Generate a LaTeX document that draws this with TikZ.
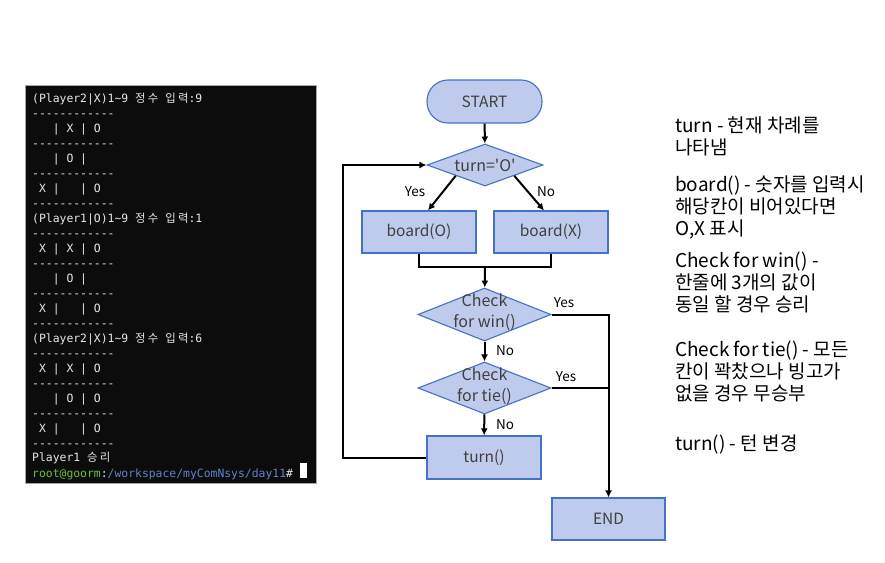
\documentclass[tikz,border=0pt]{standalone}
\usepackage{fontspec}
\setmainfont{Noto Sans CJK KR}
\setmonofont{DejaVu Sans Mono}
\newfontfamily\termkr[LetterSpace=20]{Noto Sans CJK KR}
\usetikzlibrary{shapes.geometric,arrows.meta}
\definecolor{boxfill}{HTML}{BFCBEC}
\definecolor{boxline}{HTML}{4472C4}
\definecolor{boxtext}{HTML}{404040}
\definecolor{termbg}{HTML}{0C0C0C}
\definecolor{termfg}{HTML}{E8E8E8}
\definecolor{termgreen}{HTML}{6CBE3A}
\definecolor{termblue}{HTML}{5B86C6}
\newcommand{\hg}[1]{{\termkr #1}}
\newcommand{\tld}{\textasciitilde}

\begin{document}
\begin{tikzpicture}
            [x=1pt,y=-1pt,
            procbox/.style={rectangle,draw=boxline,fill=boxfill,line width=1.1pt,text=boxtext,minimum width=114pt,minimum height=42pt,inner sep=0pt,font=\fontsize{15.5}{18}\selectfont},
            startbox/.style={procbox,rounded corners=21pt,minimum width=115pt,minimum height=43pt},
            decbox/.style={diamond,draw=boxline,fill=boxfill,line width=1.1pt,inner sep=0pt},
            dectext/.style={text=boxtext,align=center,inner sep=0pt,font=\fontsize{16}{21}\selectfont},
            yn/.style={inner sep=0pt,font=\fontsize{13.5}{16}\selectfont},
            conn/.style={line width=2pt,black},
            arr/.style={conn,-{Latex[length=7pt,width=7pt]}},
            termline/.style={anchor=base west,inner sep=0pt,text=termfg,font=\ttfamily\fontsize{11.4}{14}\selectfont},
            note/.style={anchor=west,inner sep=0pt,align=left,font=\fontsize{19}{22}\selectfont}]
            \useasboundingbox (0,0) rectangle (885,562);
            %
            % terminal
            \filldraw[fill=termbg,draw=black!35,line width=0.8pt] (25,85) rectangle (316,483);
            \node[termline] (t1) at (32,102) {(Player2|X)1\tld 9 \hg{정수}~\hg{입력}:9};
            \node[termline] (t2) at (32,117) {------------};
            \node[termline] (t3) at (32,132) {~~~| X | O};
            \node[termline] (t4) at (32,147) {------------};
            \node[termline] (t5) at (32,162) {~~~| O |};
            \node[termline] (t6) at (32,177) {------------};
            \node[termline] (t7) at (32,192) {~X |~~~| O};
            \node[termline] (t8) at (32,207) {------------};
            \node[termline] (t9) at (32,222) {(Player1|O)1\tld 9 \hg{정수}~\hg{입력}:1};
            \node[termline] (t10) at (32,237) {------------};
            \node[termline] (t11) at (32,252) {~X | X | O};
            \node[termline] (t12) at (32,267) {------------};
            \node[termline] (t13) at (32,282) {~~~| O |};
            \node[termline] (t14) at (32,297) {------------};
            \node[termline] (t15) at (32,312) {~X |~~~| O};
            \node[termline] (t16) at (32,327) {------------};
            \node[termline] (t17) at (32,342) {(Player2|X)1\tld 9 \hg{정수}~\hg{입력}:6};
            \node[termline] (t18) at (32,357) {------------};
            \node[termline] (t19) at (32,372) {~X | X | O};
            \node[termline] (t20) at (32,387) {------------};
            \node[termline] (t21) at (32,402) {~~~| O | O};
            \node[termline] (t22) at (32,417) {------------};
            \node[termline] (t23) at (32,432) {~X |~~~| O};
            \node[termline] (t24) at (32,447) {------------};
            \node[termline] (t25) at (32,461) {Player1 \hg{승리}};
            \node[termline] (t26) at (32,477) {\textcolor{termgreen}{root@goorm}:\textcolor{termblue}{/workspace/myComNsys/day11}\# \textcolor{white}{\rule[-1pt]{7pt}{15pt}}};
            %
            % flowchart
            \node[startbox] (start) at (484.5,101.5) {START};
            \node[decbox,minimum width=116pt,minimum height=42pt] (turnq) at (485,165) {};
            \node[dectext] (turnqtext) at (turnq) {turn=\textquotesingle O\textquotesingle};
            \node[procbox] (boardo) at (419,232) {board(O)};
            \node[procbox] (boardx) at (551,232) {board(X)};
            \node[decbox,minimum width=133pt,minimum height=53pt] (win) at (484.5,314.5) {};
            \node[dectext] (wintext) at (484.5,312.5) {Check\\for win()};
            \node[decbox,minimum width=133pt,minimum height=52pt] (tie) at (484.5,388) {};
            \node[dectext] (tietext) at (484.5,386) {Check\\for tie()};
            \node[procbox,minimum height=43pt] (turnf) at (484,457.5) {turn()};
            \node[procbox,minimum width=113pt] (end) at (608.5,519) {END};
            \coordinate (merge) at (485,267);
            %
            \node[yn] (yes1) at (415,192) {Yes};
            \node[yn] (no1) at (546,192) {No};
            \node[yn] (yes2) at (564,303) {Yes};
            \node[yn] (no2) at (505,351) {No};
            \node[yn] (yes3) at (566,377) {Yes};
            \node[yn] (no3) at (505,425) {No};
            %
            \draw[arr] (start) -- (turnq);
            \draw[arr] (turnq.south west) -- ([xshift=9pt]boardo.north);
            \draw[arr] (turnq.south east) -- ([xshift=-7pt]boardx.north);
            \draw[conn] (boardo.south) |- (merge) -| (boardx.south);
            \draw[arr] (merge) -- (win);
            \draw[arr] (win) -- (tie);
            \draw[arr] (tie) -- (turnf);
            \draw[arr] (turnf.west) -- ++(-83,0) |- (turnq.west);
            \draw[arr] (win.east) -| (end.north);
            \draw[conn] (tie.east) -- (tie.east -| end.north);
            %
            % notes
            \node[note] (n1) at (675,136) {turn - 현재 차례를\\나타냄};
            \node[note] (n2) at (675,207) {board() - 숫자를 입력시\\해당칸이 비어있다면\\O,X 표시};
            \node[note] (n3) at (675,282) {Check for win() -\\한줄에 3개의 값이\\동일 할 경우 승리};
            \node[note] (n4) at (675,371) {Check for tie() - 모든\\칸이 꽉찼으나 빙고가\\없을 경우 무승부};
            \node[note] (n5) at (675,445) {turn() - 턴 변경};
        \end{tikzpicture}
\end{document}
